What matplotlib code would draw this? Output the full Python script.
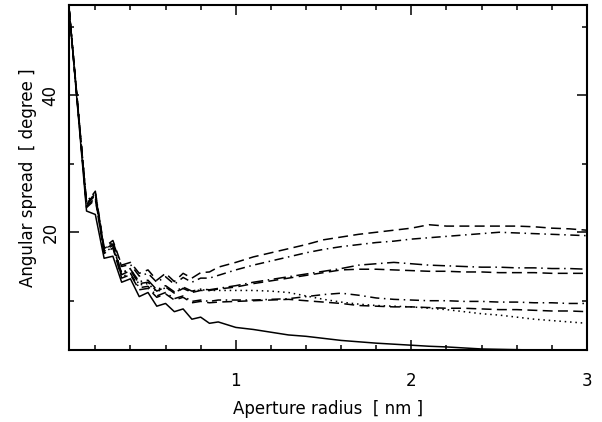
import numpy as np
import matplotlib
matplotlib.use("Agg")
import matplotlib.pyplot as plt

radius = [0.05, 0.15, 0.2, 0.25, 0.3, 0.35, 0.4, 0.45, 0.5, 0.55, 0.6, 0.65,
          0.7, 0.75, 0.8, 0.85, 0.9, 1.0, 1.1, 1.2, 1.3, 1.4, 1.5, 1.6, 1.7,
          1.8, 1.9, 2.0, 2.1, 2.2, 2.3, 2.4, 2.5, 2.6, 2.7, 2.8, 2.9, 3.0]

spread_solid = [52.8, 23.1, 22.6, 16.2, 16.5, 12.7, 13.2, 10.6, 11.2, 9.2, 9.6, 8.4,
                8.8, 7.3, 7.6, 6.7, 6.9, 6.1, 5.8, 5.4, 5.0, 4.8, 4.5, 4.2, 4.0,
                3.8, 3.65, 3.5, 3.35, 3.25, 3.1, 2.95, 2.9, 2.85, 2.8, 2.75, 2.7, 2.65]
spread_a = [52.8, 24.0, 25.8, 17.8, 18.8, 15.2, 15.6, 14.0, 14.5, 13.0, 14.0, 12.8,
            14.0, 13.3, 14.1, 14.2, 14.9, 15.6, 16.4, 17.0, 17.6, 18.2, 18.9, 19.3, 19.7,
            20.0, 20.3, 20.6, 21.1, 20.9, 20.9, 20.9, 20.9, 20.9, 20.8, 20.6, 20.5, 20.3]
spread_b = [52.8, 24.2, 25.6, 17.6, 18.6, 15.0, 15.3, 13.6, 14.0, 12.7, 13.5, 12.4,
            13.4, 12.7, 13.3, 13.3, 13.7, 14.5, 15.2, 15.8, 16.4, 17.0, 17.5, 17.9, 18.2,
            18.5, 18.7, 19.0, 19.2, 19.4, 19.6, 19.8, 20.0, 19.9, 19.8, 19.7, 19.6, 19.5]
spread_c = [52.8, 24.3, 26.0, 17.4, 18.3, 14.0, 14.6, 12.8, 13.0, 11.6, 12.2, 11.3,
            12.0, 11.4, 11.7, 11.6, 11.8, 12.2, 12.7, 13.1, 13.5, 13.9, 14.3, 14.7, 15.2,
            15.4, 15.6, 15.4, 15.2, 15.1, 15.0, 14.9, 14.9, 14.8, 14.8, 14.7, 14.7, 14.6]
spread_d = [52.8, 24.0, 25.4, 17.2, 18.1, 13.8, 14.4, 12.5, 12.7, 11.4, 12.0, 11.1,
            11.8, 11.2, 11.5, 11.5, 11.7, 12.0, 12.5, 12.9, 13.3, 13.7, 14.1, 14.5, 14.6,
            14.6, 14.5, 14.4, 14.3, 14.3, 14.2, 14.2, 14.1, 14.1, 14.1, 14.0, 14.0, 14.0]
spread_e = [52.8, 24.5, 25.8, 17.5, 18.5, 14.1, 14.7, 12.3, 12.5, 11.3, 11.9, 11.2,
            11.8, 11.3, 11.6, 11.5, 11.5, 11.5, 11.5, 11.4, 11.2, 10.7, 10.2, 9.8, 9.5,
            9.3, 9.2, 9.1, 8.9, 8.7, 8.4, 8.1, 7.9, 7.6, 7.3, 7.1, 6.9, 6.7]
spread_f = [52.8, 23.8, 25.0, 17.0, 17.9, 13.5, 14.0, 11.9, 12.1, 10.7, 11.2, 10.3,
            10.7, 9.9, 10.1, 9.9, 10.1, 10.1, 10.1, 10.2, 10.3, 10.6, 10.9, 11.1, 10.8,
            10.4, 10.2, 10.1, 10.0, 10.0, 9.9, 9.9, 9.8, 9.8, 9.7, 9.7, 9.6, 9.6]
spread_g = [52.8, 23.6, 24.8, 16.9, 17.7, 13.3, 13.8, 11.6, 11.8, 10.5, 11.0, 10.1,
            10.5, 9.7, 9.9, 9.7, 9.8, 9.9, 10.0, 10.1, 10.2, 10.0, 9.8, 9.6, 9.3,
            9.2, 9.1, 9.1, 9.0, 8.9, 8.9, 8.8, 8.7, 8.7, 8.6, 8.5, 8.5, 8.4]

fig = plt.figure(figsize=(6.02, 4.22), dpi=100)
ax = fig.add_axes([0.1146, 0.1706, 0.8604, 0.8176])

lw = 1.1
ax.plot(radius, spread_solid, color='black', lw=lw)
ax.plot(radius, spread_a, color='black', lw=lw, dashes=(6.5, 3.5))
ax.plot(radius, spread_b, color='black', lw=lw, dashes=(6, 3, 1, 3))
ax.plot(radius, spread_c, color='black', lw=lw, dashes=(8, 3, 1, 3))
ax.plot(radius, spread_d, color='black', lw=lw, dashes=(6.5, 3.5))
ax.plot(radius, spread_e, color='black', lw=lw, dashes=(1, 2.5))
ax.plot(radius, spread_f, color='black', lw=lw, dashes=(6, 3, 1, 3))
ax.plot(radius, spread_g, color='black', lw=lw, dashes=(6.5, 3.5))

ax.set_xlim(0.05, 3)
ax.set_ylim(2.8, 53.2)
ax.set_xticks([1, 2, 3])
ax.set_xticks(np.arange(0.2, 3.0, 0.2), minor=True)
ax.set_yticks([20, 40])
ax.set_yticks([10, 30, 50], minor=True)

for s in ax.spines.values():
    s.set_linewidth(1.5)
ax.tick_params(which='both', direction='in', top=True, right=True, width=1.1)
ax.tick_params(which='major', length=7.2)
ax.tick_params(which='minor', length=3.6)
ax.tick_params(axis='x', which='major', pad=16, labelsize=12)
ax.tick_params(axis='y', which='major', pad=7, labelsize=12)
for lab in ax.get_yticklabels():
    lab.set_rotation(90)
    lab.set_va('center')

ax.set_xlabel('Aperture radius  [ nm ]', fontsize=12, labelpad=7)
ax.set_ylabel('Angular spread  [ degree ]', fontsize=12, labelpad=3)

fig.savefig('out.png', dpi=100)
